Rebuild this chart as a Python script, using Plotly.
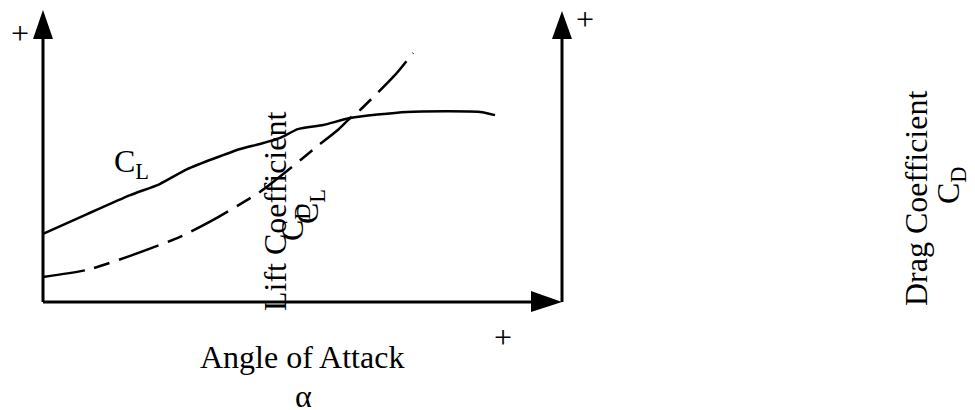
import plotly.graph_objects as go

# Schematic data (arbitrary units): angle of attack vs coefficients
alpha_cl = [0, 0.85, 1.68, 2.25, 2.78, 3.8, 4.18, 4.57, 4.91, 5.4, 5.92, 7.01, 8.42, 8.71]
cl_vals = [0.233, 0.301, 0.366, 0.404, 0.455, 0.524, 0.541, 0.562, 0.592, 0.606, 0.630, 0.651, 0.651, 0.640]

alpha_cd = [0, 0.85, 1.68, 2.64, 3.28, 4.18, 4.76, 5.24, 5.68, 5.92, 6.07, 6.78, 7.13]
cd_vals = [0.086, 0.110, 0.158, 0.223, 0.281, 0.377, 0.457, 0.527, 0.589, 0.630, 0.651, 0.777, 0.853]

x_label = "Angle of Attack"
x_symbol = "α"
y_left_label = "Lift Coefficient"
y_right_label = "Drag Coefficient"
cl_label = "C<sub>L</sub>"
cd_label = "C<sub>D</sub>"

OFF = 8                 # page body margin
W, H = 975 - OFF, 410 - OFF
PX0, PX1 = 43, 562      # page x of alpha=0 and alpha=10
PY0, PY1 = 302, 10      # page y of coef=0 and coef=1
sx = (PX1 - PX0) / 10.0
sy = (PY0 - PY1) / 1.0

def ax(px):
    return (px - PX0) / sx

def ay(py):
    return (PY0 - py) / sy

FONT = "Liberation Serif, Times New Roman, serif"
BLACK = "#000000"

fig = go.Figure()
fig.add_trace(go.Scatter(x=alpha_cl, y=cl_vals, mode="lines",
                         line=dict(color=BLACK, width=2.5, shape="spline", smoothing=0.6),
                         showlegend=False, hoverinfo="skip"))
fig.add_trace(go.Scatter(x=alpha_cd, y=cd_vals, mode="lines",
                         line=dict(color=BLACK, width=2.5, shape="spline", smoothing=0.6,
                                   dash="42px,10px,16px,10px"),
                         showlegend=False, hoverinfo="skip"))

shapes = []
lw = 3
# left vertical axis
shapes.append(dict(type="line", x0=0, x1=0, y0=0, y1=ay(38), line=dict(color=BLACK, width=lw)))
shapes.append(dict(type="path", path=f"M {ax(33)} {ay(39)} L {ax(53)} {ay(39)} L 0 {ay(10)} Z",
                   fillcolor=BLACK, line=dict(color=BLACK, width=0)))
# right vertical axis
shapes.append(dict(type="line", x0=10, x1=10, y0=0, y1=ay(38), line=dict(color=BLACK, width=lw)))
shapes.append(dict(type="path", path=f"M {ax(552)} {ay(39)} L {ax(572)} {ay(39)} L 10 {ay(11)} Z",
                   fillcolor=BLACK, line=dict(color=BLACK, width=0)))
# horizontal axis
shapes.append(dict(type="line", x0=0, x1=ax(533), y0=0, y1=0, line=dict(color=BLACK, width=lw)))
shapes.append(dict(type="path", path=f"M {ax(531)} {ay(291)} L {ax(531)} {ay(312)} L 10 0 Z",
                   fillcolor=BLACK, line=dict(color=BLACK, width=0)))

fs = 32
ann = []
def add(text, px, py, angle=0, size=fs):
    ann.append(dict(text=text, x=ax(px), y=ay(py), xref="x", yref="y", showarrow=False,
                    textangle=angle, font=dict(family=FONT, size=size, color=BLACK),
                    xanchor="center", yanchor="middle"))

add("+", 20, 33)
add("+", 585, 19)
add("+", 503, 337)
add(x_label, 302, 357)
add(x_symbol, 303, 396)
add(cl_label, 131, 163)
add(y_left_label, 275, 212, angle=-90)
add(cl_label, 309, 207, angle=-90)
add(cd_label, 294, 222, angle=-90)
add(y_right_label, 916, 199, angle=-90)
add(cd_label, 950, 185, angle=-90)

fig.update_layout(
    width=W, height=H,
    margin=dict(l=0, r=0, t=0, b=0),
    paper_bgcolor="white", plot_bgcolor="white",
    xaxis=dict(range=[ax(OFF), ax(OFF + W)], visible=False, fixedrange=True),
    yaxis=dict(range=[ay(OFF + H), ay(OFF)], visible=False, fixedrange=True),
    shapes=shapes, annotations=ann, showlegend=False,
)

fig.write_html("out.html")
